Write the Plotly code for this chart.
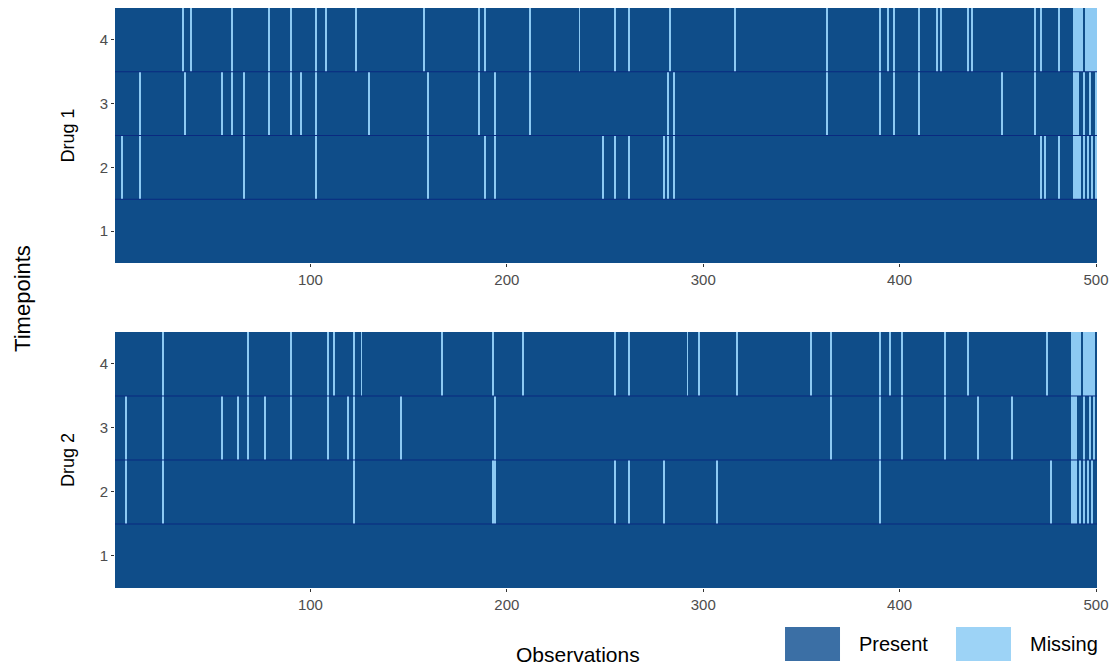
import plotly.graph_objects as go
from plotly.subplots import make_subplots

observations = list(range(1, 501))
timepoints = [1, 2, 3, 4]
drugs = ["Drug 1", "Drug 2"]
x_ticks = [100, 200, 300, 400, 500]

drug1_missing = {
    1: [],
    2: [4, 13, 66, 103, 160, 189, 194, 249, 255, 262, 280, 282, 285, 472, 474, 481,
        489, 490, 491, 492, 494, 496, 498, 500],
    3: [13, 36, 55, 60, 66, 79, 90, 95, 103, 130, 160, 186, 194, 212, 282, 285, 363,
        390, 397, 410, 452, 469, 489, 490, 491, 494, 497, 500],
    4: [35, 39, 60, 79, 90, 103, 108, 123, 158, 186, 189, 212, 237, 255, 262, 283, 316,
        363, 390, 394, 397, 410, 419, 421, 435, 437, 469, 472, 481, 489, 490, 491, 492,
        493, 495, 496, 497, 498, 499, 500],
}
drug2_missing = {
    1: [],
    2: [6, 25, 122, 193, 194, 255, 262, 280, 307, 390, 477, 488, 489, 490, 492, 494,
        496, 498],
    3: [6, 25, 55, 63, 68, 77, 90, 109, 119, 122, 146, 194, 365, 390, 401, 423, 440,
        457, 488, 489, 490, 494, 497, 499],
    4: [25, 68, 90, 109, 112, 122, 126, 167, 193, 208, 255, 262, 292, 298, 317, 355,
        365, 390, 395, 401, 423, 435, 475, 488, 489, 490, 491, 492, 494, 495, 496, 497,
        498, 499],
}

PRESENT = "#0F4D89"
MISSING = "#8DCAF3"
LEG_PRESENT = "#3B6FA5"
LEG_MISSING = "#9DD3F6"
NAVY = "#0A2A80"
FONT = "Liberation Sans, Arial"


def matrix(missing):
    return [[1 if o in missing[t] else 0 for o in observations] for t in timepoints]


fig = make_subplots(rows=2, cols=1, vertical_spacing=0.119)

for i, miss in enumerate([drug1_missing, drug2_missing]):
    fig.add_trace(
        go.Heatmap(
            z=matrix(miss), x=observations, y=timepoints,
            zmin=0, zmax=1,
            colorscale=[[0, PRESENT], [0.5, PRESENT], [0.5, MISSING], [1, MISSING]],
            showscale=False, hoverinfo="skip",
        ),
        row=i + 1, col=1,
    )
    yref = "y" if i == 0 else "y2"
    xref = "x" if i == 0 else "x2"
    for t in timepoints[:-1]:
        fig.add_shape(type="line", xref=xref + " domain", yref=yref,
                      x0=0, x1=1, y0=t + 0.5, y1=t + 0.5,
                      line=dict(color=NAVY, width=1))

tickfont = dict(family=FONT, size=15, color="#4D4D4D")
for r in [1, 2]:
    fig.update_xaxes(range=[0.5, 500.5], tickvals=x_ticks, ticks="outside", ticklen=3,
                     tickcolor="#333333", tickfont=tickfont, showgrid=False,
                     zeroline=False, showline=False, automargin=False, row=r, col=1)
    fig.update_yaxes(range=[0.5, 4.5], tickvals=timepoints, ticks="outside", ticklen=3,
                     tickcolor="#333333", tickfont=tickfont, showgrid=False,
                     zeroline=False, showline=False, automargin=False,
                     title=dict(text=drugs[r - 1], standoff=20,
                                font=dict(family=FONT, size=18, color="black")),
                     row=r, col=1)

fig.update_yaxes(domain=[0.5603, 1.0], row=1, col=1)
fig.update_yaxes(domain=[0.0, 0.4414], row=2, col=1)

fig.add_annotation(text="Timepoints", xref="paper", yref="paper", x=-0.0948, y=0.5,
                   xanchor="center", yanchor="middle", textangle=-90, showarrow=False,
                   font=dict(family=FONT, size=22, color="black"))
fig.add_annotation(text="Observations", xref="paper", yref="paper", x=0.4715, y=-0.1155,
                   xanchor="center", yanchor="middle", showarrow=False,
                   font=dict(family=FONT, size=21, color="black"))

# Legend drawn with shapes and text
legend_items = [("Present", LEG_PRESENT, 0.6823, 0.7383, 0.7556),
                ("Missing", LEG_MISSING, 0.8564, 0.9124, 0.9297)]
for label, col, x0, x1, xt in legend_items:
    fig.add_shape(type="rect", xref="paper", yref="paper", x0=x0, x1=x1,
                  y0=-0.1259, y1=-0.0672, fillcolor=col, line=dict(width=0))
    fig.add_annotation(text=label, xref="paper", yref="paper", x=xt, y=-0.0966,
                       xanchor="left", yanchor="middle", showarrow=False,
                       font=dict(family=FONT, size=20, color="black"))

# The page body has an 8px margin; compensate so the plot area sits at 115..1097, 8..588
fig.update_layout(
    width=1109, height=660,
    margin=dict(l=107, r=20, t=0, b=80),
    paper_bgcolor="white", plot_bgcolor="white",
    showlegend=False,
)

fig.write_html("out.html")
